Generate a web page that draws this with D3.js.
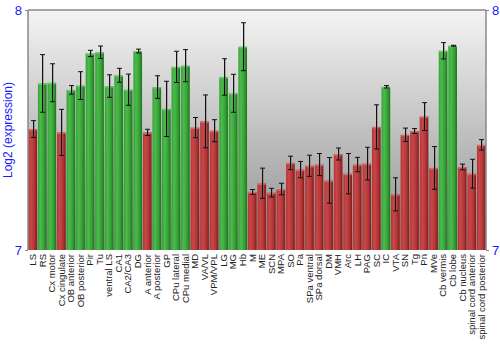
<!DOCTYPE html>
<html><head><meta charset="utf-8">
<script src="https://cdn.jsdelivr.net/npm/d3@7"></script>
<style>body{margin:0;background:#fff}svg{display:block}</style>
</head><body>
<svg id="c" width="500" height="350"></svg>
<script>
const categories = ["LS","RS","Cx motor","Cx cingulate","OB anterior","OB posterior","Pir","Tu","ventral LS","CA1","CA2/CA3","DG","A anterior","A posterior","GP","CPu lateral","CPu medial","MD","VA/VL","VPM/VPL","LG","MG","Hb","M","ME","SCN","MPA","SO","Pa","SPa ventral","SPa dorsal","DM","VMH","Arc","LH","PAG","SC","IC","VTA","SN","Tg","Pn","MVe","Cb vermis","Cb lobe","Cb nucleus","spinal cord anterior","spinal cord posterior"];
const values = [7.504,7.694,7.697,7.490,7.667,7.685,7.819,7.824,7.683,7.728,7.668,7.829,7.490,7.679,7.588,7.763,7.768,7.510,7.536,7.497,7.721,7.653,7.847,7.242,7.278,7.239,7.254,7.363,7.335,7.351,7.356,7.290,7.400,7.318,7.356,7.360,7.513,7.680,7.232,7.480,7.496,7.556,7.342,7.830,7.851,7.346,7.318,7.438];
const errors = [0.035,0.120,0.079,0.096,0.018,0.058,0.013,0.026,0.047,0.029,0.065,0.008,0.013,0.047,0.115,0.065,0.067,0.042,0.110,0.046,0.076,0.079,0.100,0.010,0.063,0.018,0.024,0.028,0.034,0.044,0.046,0.095,0.025,0.084,0.030,0.068,0.092,0.005,0.069,0.028,0.010,0.058,0.089,0.034,0.002,0.012,0.060,0.022];
const groups = ["r","g","g","r","g","g","g","g","g","g","g","g","r","g","g","g","g","r","r","r","g","g","g","r","r","r","r","r","r","r","r","r","r","r","r","r","r","g","r","r","r","r","r","g","g","r","r","r"];
const yTicks = [7, 8];
const yTitle = "Log2 (expression)";

const svg = d3.select("#c");
const L = 28, R = 486, T = 10, B = 250;
const x = d3.scaleBand().domain(categories).range([L, R]).paddingInner(0.09).paddingOuter(0.04);
const y = d3.scaleLinear().domain([7, 8]).range([B, T]);

const defs = svg.append("defs");
const bg = defs.append("linearGradient").attr("id","bg").attr("x1",0).attr("y1",0).attr("x2",0).attr("y2",1);
bg.append("stop").attr("offset","0%").attr("stop-color","#f4f4f4");
bg.append("stop").attr("offset","100%").attr("stop-color","#8e8e8e");
function barGrad(id, c1, c2, c3) {
  const g = defs.append("linearGradient").attr("id", id).attr("x1",0).attr("y1",0).attr("x2",1).attr("y2",0);
  g.append("stop").attr("offset","0%").attr("stop-color",c2);
  g.append("stop").attr("offset","30%").attr("stop-color",c1);
  g.append("stop").attr("offset","70%").attr("stop-color",c2);
  g.append("stop").attr("offset","100%").attr("stop-color",c3);
}
barGrad("gg", "#4cbb4c", "#35a035", "#1d721d");
barGrad("gr", "#c84848", "#b23434", "#7c1c1c");

svg.append("rect").attr("x", L).attr("y", T).attr("width", R - L).attr("height", B - T).attr("fill", "url(#bg)");

const bars = svg.append("g");
bars.selectAll("rect.bar").data(categories).join("rect").attr("class","bar")
  .attr("x", d => x(d)).attr("width", x.bandwidth())
  .attr("y", (d,i) => y(values[i])).attr("height", (d,i) => B - y(values[i]))
  .attr("fill", (d,i) => groups[i] === "g" ? "url(#gg)" : "url(#gr)");
bars.selectAll("rect.cap").data(categories).join("rect").attr("class","cap")
  .attr("x", d => x(d)).attr("width", x.bandwidth())
  .attr("y", (d,i) => y(values[i])).attr("height", 1.5)
  .attr("fill", (d,i) => groups[i] === "g" ? "#7fd07f" : "#d98080").attr("opacity", 0.7);

const eb = svg.append("g");
categories.forEach((c, i) => {
  const cx = Math.round(x(c) + x.bandwidth() / 2) + 0.5;
  const y1 = y(values[i] + errors[i]), y2 = y(values[i] - errors[i]);
  eb.append("line").attr("x1", cx + 1).attr("x2", cx + 1).attr("y1", y1).attr("y2", y2).attr("stroke", "#777").attr("stroke-opacity", 0.5);
  eb.append("line").attr("x1", cx).attr("x2", cx).attr("y1", y1).attr("y2", y2).attr("stroke", "#111");
  [y1, y2].forEach(yy => eb.append("line").attr("x1", cx - 2.5).attr("x2", cx + 2.5).attr("y1", yy).attr("y2", yy).attr("stroke", "#111"));
});

// frame
svg.append("line").attr("x1", L).attr("x2", R).attr("y1", T).attr("y2", T).attr("stroke", "#888").attr("stroke-width", 1.5);
svg.append("line").attr("x1", L).attr("x2", L).attr("y1", T).attr("y2", B).attr("stroke", "#888").attr("stroke-width", 1.5);
svg.append("line").attr("x1", R).attr("x2", R).attr("y1", T).attr("y2", B).attr("stroke", "#888").attr("stroke-width", 1.5);

const yl = d3.axisLeft(y).tickValues(yTicks).tickFormat(d3.format("d")).tickSize(3);
const yr = d3.axisRight(y).tickValues(yTicks).tickFormat(d3.format("d")).tickSize(3);
[svg.append("g").attr("transform", `translate(${L},0)`).call(yl), svg.append("g").attr("transform", `translate(${R},0)`).call(yr)].forEach(g => {
  g.select(".domain").remove();
  g.selectAll("line").attr("stroke", "#888");
  g.selectAll("text").attr("fill", "#1a1aff").attr("font-family", "Liberation Sans, Arial, sans-serif").attr("font-size", 13);
});

const xa = d3.axisBottom(x).tickSize(0).tickPadding(0);
const xg = svg.append("g").attr("transform", `translate(0,${B})`).call(xa);
xg.select(".domain").remove();
xg.selectAll("text").attr("transform", "rotate(-90)").attr("text-anchor", "end")
  .attr("x", -4).attr("y", 0).attr("dy", "0.35em")
  .attr("fill", "#222").attr("font-family", "Liberation Sans, Arial, sans-serif").attr("font-size", 9.5);

svg.append("text").attr("transform", `translate(12,${(T + B) / 2}) rotate(-90)`).attr("text-anchor", "middle")
  .attr("fill", "#1a1aff").attr("font-family", "Liberation Sans, Arial, sans-serif").attr("font-size", 12).text(yTitle);
</script>
</body></html>
